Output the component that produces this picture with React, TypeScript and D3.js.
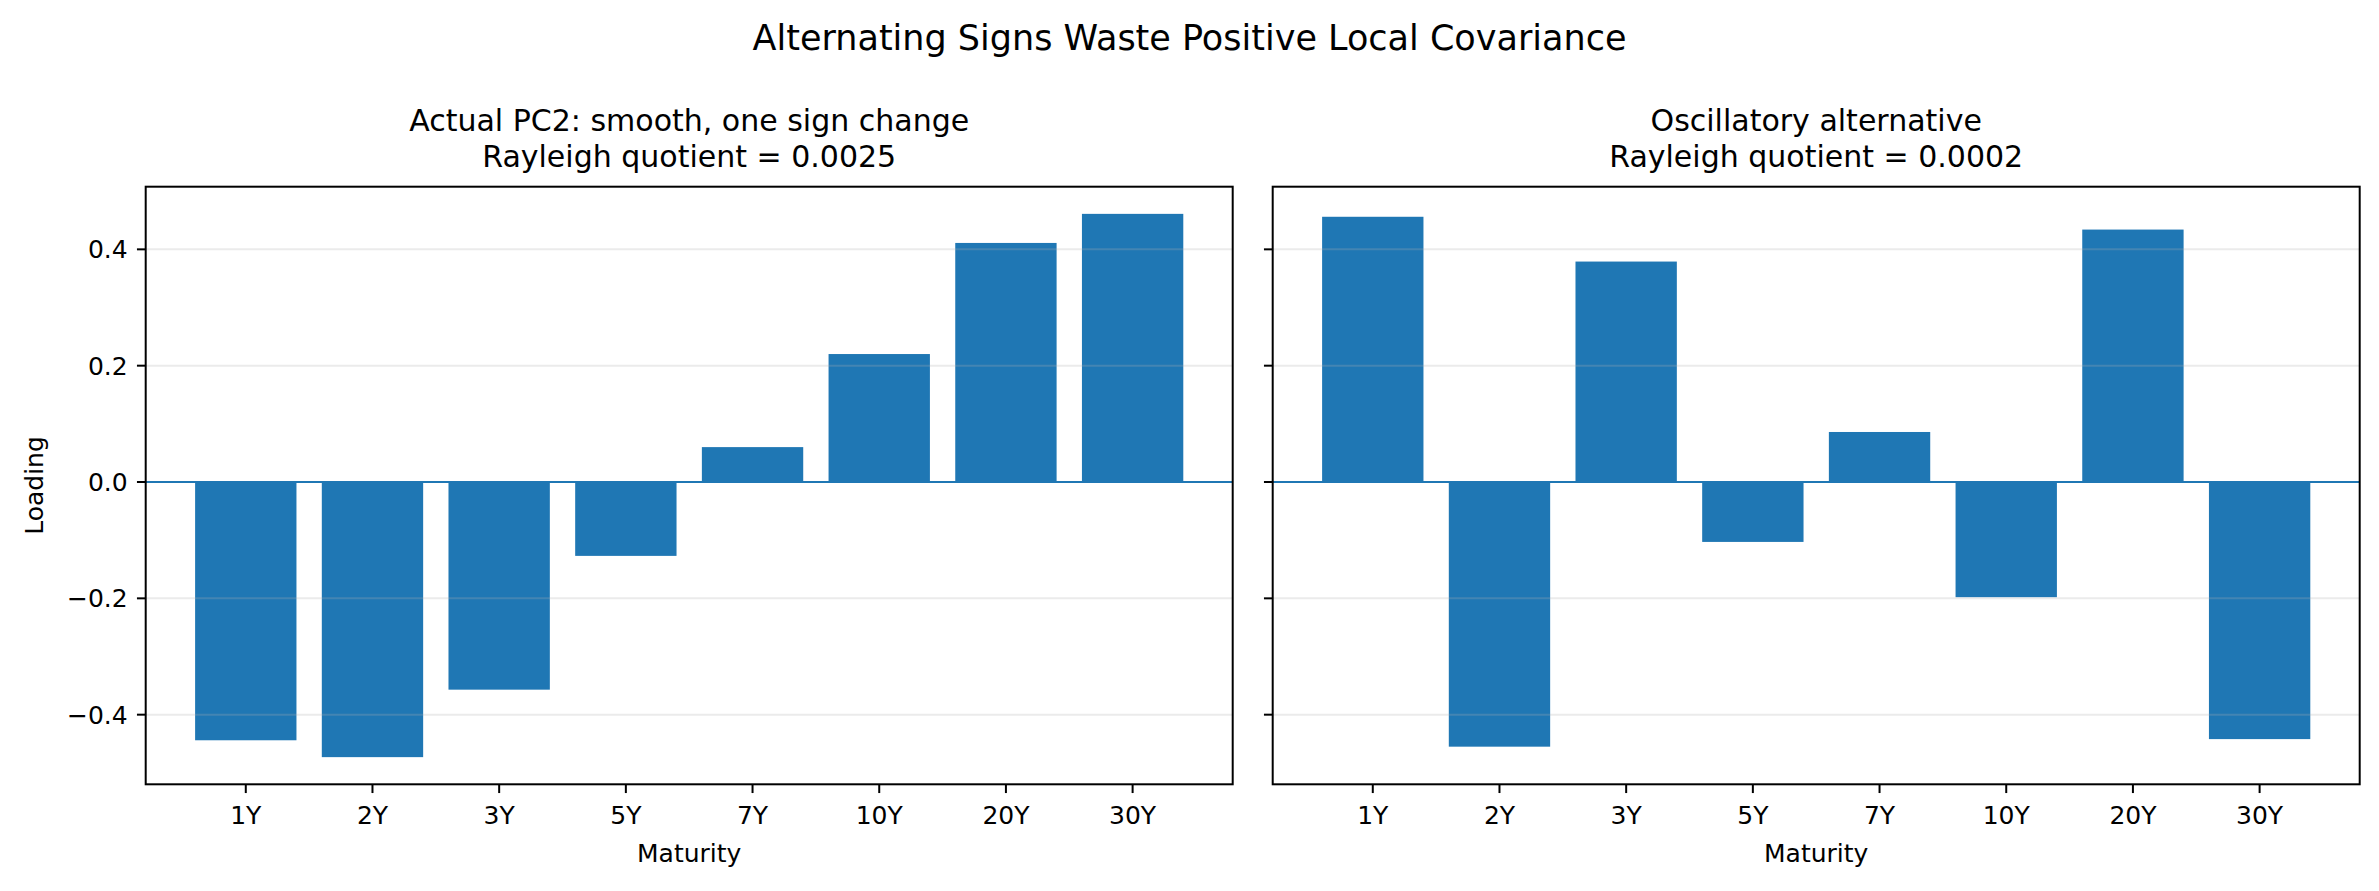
import React from "react";
import * as d3 from "d3";

const maturities = ["1Y", "2Y", "3Y", "5Y", "7Y", "10Y", "20Y", "30Y"];
const actualPC2 = [-0.444, -0.473, -0.357, -0.127, 0.06, 0.22, 0.411, 0.461];
const oscillatory = [0.456, -0.455, 0.379, -0.103, 0.086, -0.198, 0.434, -0.442];
const yTicks = [-0.4, -0.2, 0.0, 0.2, 0.4];

const panels = [
  { title: ["Actual PC2: smooth, one sign change", "Rayleigh quotient = 0.0025"], values: actualPC2 },
  { title: ["Oscillatory alternative", "Rayleigh quotient = 0.0002"], values: oscillatory },
];

const W = 2379;
const H = 891;
const font = "DejaVu Sans, sans-serif";
const blue = "#1f77b4";

const top = 186.7;
const bottom = 784.3;
const lefts = [145.7, 1272.7];
const axW = 1087;

// shared y, matplotlib style 5% margin
const all = [...actualPC2, ...oscillatory, 0];
const lo = d3.min(all) as number;
const hi = d3.max(all) as number;
const pad = (hi - lo) * 0.05;
const y = d3.scaleLinear().domain([lo - pad, hi + pad]).range([bottom, top]);
const fmt = d3.format(".1f");

const Panel = ({ left, values, title, first }: any) => {
  const x = d3
    .scaleBand()
    .domain(maturities)
    .range([left, left + axW])
    .paddingInner(0.2)
    .paddingOuter(0.39);
  const cx = left + axW / 2;
  return (
    <g>
      {values.map((v: number, i: number) => (
        <rect
          key={i}
          x={x(maturities[i])}
          width={x.bandwidth()}
          y={y(Math.max(0, v))}
          height={Math.abs(y(v) - y(0))}
          fill={blue}
        />
      ))}
      {yTicks.map((t) => (
        <line key={t} x1={left} x2={left + axW} y1={y(t)} y2={y(t)} stroke="#b0b0b0" strokeOpacity={0.25} strokeWidth={2} />
      ))}
      <line x1={left} x2={left + axW} y1={y(0)} y2={y(0)} stroke={blue} strokeWidth={2} />
      <rect x={left} y={top} width={axW} height={bottom - top} fill="none" stroke="#000" strokeWidth={2} />
      {yTicks.map((t) => (
        <g key={t}>
          <line x1={left - 8.75} x2={left} y1={y(t)} y2={y(t)} stroke="#000" strokeWidth={2} />
          {first && (
            <text x={left - 18} y={y(t)} dy="0.36em" textAnchor="end" fontSize={25} fontFamily={font}>
              {fmt(t)}
            </text>
          )}
        </g>
      ))}
      {maturities.map((m) => {
        const px = (x(m) as number) + x.bandwidth() / 2;
        return (
          <g key={m}>
            <line x1={px} x2={px} y1={bottom} y2={bottom + 8.75} stroke="#000" strokeWidth={2} />
            <text x={px} y={824} textAnchor="middle" fontSize={25} fontFamily={font}>
              {m}
            </text>
          </g>
        );
      })}
      <text x={cx} y={862} textAnchor="middle" fontSize={25} fontFamily={font}>
        Maturity
      </text>
      <text x={cx} y={131} textAnchor="middle" fontSize={30} fontFamily={font}>
        {title[0]}
      </text>
      <text x={cx} y={167} textAnchor="middle" fontSize={30} fontFamily={font}>
        {title[1]}
      </text>
      {first && (
        <text
          transform={`translate(43 ${(top + bottom) / 2}) rotate(-90)`}
          textAnchor="middle"
          fontSize={25}
          fontFamily={font}
        >
          Loading
        </text>
      )}
    </g>
  );
};

const App = () => {
  return (
    <svg width={W} height={H} style={{ position: "absolute", left: 0, top: 0, background: "#fff" }}>
      <rect width={W} height={H} fill="#fff" />
      <text x={W / 2} y={50} textAnchor="middle" fontSize={35} fontFamily={font}>
        Alternating Signs Waste Positive Local Covariance
      </text>
      {panels.map((p, i) => (
        <Panel key={i} left={lefts[i]} values={p.values} title={p.title} first={i === 0} />
      ))}
    </svg>
  );
};

export default App;
